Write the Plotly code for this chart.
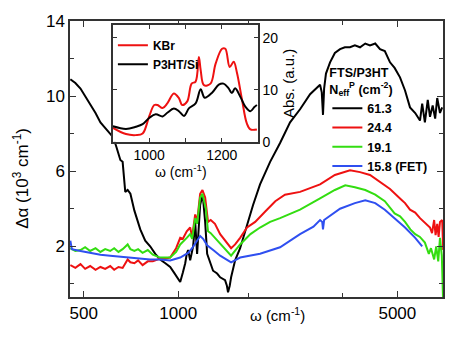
import plotly.graph_objects as go

# main panel: FTS/P3HT, delta alpha (10^3 cm^-1) vs omega (cm^-1)
w_613 = [453, 470, 488, 505, 524, 545, 565, 585, 607, 621, 635, 654, 665, 678, 690, 704, 725, 757, 785,
         814, 845, 876, 910, 943, 970, 993, 1015, 1035, 1053, 1065, 1076, 1092, 1116, 1133, 1149, 1175,
         1190, 1201, 1219, 1237, 1264, 1292, 1331, 1361, 1411, 1430, 1442, 1460, 1475, 1519, 1576, 1658,
         1733, 1824, 1964, 2113, 2274, 2447, 2634, 2834, 2870, 2896, 2920, 2960, 3050, 3160, 3282, 3400,
         3532, 3660, 3801, 3950, 4090, 4250, 4402, 4560, 4737, 4900, 5098, 5290, 5486, 5700, 5904, 6000,
         6120, 6250, 6354, 6480, 6600, 6700, 6837, 6950]
a_613 = [10.9, 10.7, 10.4, 10.0, 9.6, 9.1, 8.6, 8.3, 8.0, 7.8, 7.3, 6.6, 6.5, 4.9, 5.0, 4.8, 3.9, 2.9, 2.3,
         2.0, 1.6, 1.3, 1.1, 0.9, 0.6, 0.35, 0.1, 0.6, 1.1, 1.6, 1.8, 1.25, 2.0, 3.3, 1.6, 4.2,
         4.6, 4.5, 3.3, 1.6, 1.1, 0.7, 0.55, 0.35, 0.2, -0.1, -0.45, -0.1, 0.35, 1.25, 1.9, 3.2,
         4.2, 5.3, 6.5, 7.5, 8.6, 9.3, 10.1, 10.6, 10.2, 9.0, 10.4, 11.2, 11.8, 12.3, 12.5, 12.6,
         12.6, 12.7, 12.6, 12.8, 12.7, 12.8, 12.5, 12.4, 11.8, 11.5, 11.0, 10.3, 9.4, 9.1, 8.7, 9.6,
         8.6, 9.8, 8.9, 9.5, 8.8, 9.9, 9.1, 9.4]

w_244 = [453, 470, 488, 505, 524, 545, 565, 585, 607, 625, 645, 665, 690, 704, 725, 745, 770, 800, 830,
         860, 876, 910, 943, 985, 1015, 1035, 1065, 1092, 1108, 1133, 1149, 1175, 1195, 1219, 1245, 1270,
         1310, 1361, 1411, 1475, 1519, 1576, 1658, 1760, 1895, 2040, 2190, 2447, 2834, 3160, 3532, 3801,
         4090, 4402, 4737, 5098, 5290, 5486, 5700, 5904, 6100, 6354, 6450, 6550, 6620, 6700, 6770, 6837,
         6950, 7000]
a_244 = [1.0, 0.85, 1.05, 0.8, 0.95, 0.75, 0.9, 0.8, 0.95, 0.75, 0.9, 0.85, 1.3, 1.15, 1.1, 1.25, 1.0, 1.2, 1.2,
         1.3, 1.35, 1.35, 1.4, 1.9, 2.45, 2.4, 2.8, 3.0, 2.5, 3.7, 3.3, 4.8, 5.0, 4.6, 3.3, 3.4,
         3.2, 2.65, 2.3, 1.9, 2.1, 2.45, 3.0, 3.3, 3.85, 4.4, 4.75, 4.9, 5.3, 5.8, 6.05, 5.95,
         5.8, 5.4, 5.05, 4.55, 4.3, 3.95, 3.8, 3.5, 3.3, 3.0, 2.7, 3.4, 2.6, 3.2, 2.5, 3.3,
         3.4, 1.8]

w_191 = [453, 470, 488, 505, 524, 545, 565, 585, 607, 625, 645, 665, 690, 704, 725, 745, 770, 800, 830,
         860, 876, 910, 943, 985, 1015, 1065, 1092, 1108, 1133, 1149, 1175, 1195, 1225, 1245, 1270, 1310,
         1361, 1440, 1475, 1576, 1700, 1824, 1964, 2113, 2447, 2834, 3160, 3410, 3660, 3950, 4250, 4560,
         4900, 5100, 5290, 5500, 5700, 5900, 6120, 6300, 6400, 6550, 6650, 6750, 6837, 6930, 6990]
a_191 = [1.9, 1.75, 1.8, 1.95, 1.75, 1.9, 1.7, 1.85, 1.75, 1.9, 1.7, 1.85, 2.1, 1.85, 1.75, 1.85, 1.65, 1.8, 1.55,
         1.45, 1.4, 1.4, 1.4, 1.7, 2.1, 2.45, 2.65, 2.4, 3.5, 3.2, 4.6, 4.8, 4.0, 2.8, 2.7, 2.45,
         2.15, 1.7, 1.5, 2.1, 2.65, 3.0, 3.3, 3.5, 3.95, 4.55, 5.0, 5.25, 5.15, 5.0, 4.75, 4.4,
         3.75, 3.6, 3.3, 2.9, 2.65, 2.5, 2.2, 1.6, 1.9, 1.3, 2.0, 1.2, 2.45, 1.5, -0.7]

w_158 = [453, 458, 488, 524, 565, 607, 654, 704, 757, 814, 876, 943, 1015, 1076, 1108, 1149, 1175, 1201,
         1237, 1305, 1361, 1475, 1576, 1824, 2113, 2447, 2700, 2834, 2880, 2896, 2920, 3282, 3660, 3950,
         4250, 4560, 4900, 5290, 5700, 6000]
a_158 = [2.3, 1.85, 1.75, 1.65, 1.55, 1.5, 1.45, 1.4, 1.35, 1.3, 1.3, 1.25, 1.4, 1.65, 1.9, 2.3, 2.55, 2.4,
         2.05, 1.75, 1.5, 1.15, 1.4, 1.6, 1.95, 2.65, 3.05, 3.4, 3.3, 2.9, 3.4, 4.0, 4.3, 4.45,
         4.3, 3.95, 3.5, 3.0, 2.45, 2.0]

# inset: absorbance (a.u.)
w_ins = [900, 936, 963, 982, 1000, 1014, 1023, 1037, 1050, 1068, 1082, 1091, 1105, 1117, 1128, 1137, 1142,
         1151, 1169, 1183, 1201, 1210, 1222, 1233, 1242, 1256, 1269, 1279, 1297]
a_kbr = [2.7, 1.5, 1.3, 1.6, 4.9, 7.1, 7.1, 6.5, 7.4, 9.3, 8.4, 7.1, 7.8, 11.2, 11.6, 16.3, 13.8,
         10.9, 11.2, 15.0, 17.9, 17.9, 14.4, 15.4, 13.3, 8.1, 3.6, 2.4, 2.4]
w_si = [900, 936, 963, 982, 1000, 1018, 1037, 1050, 1068, 1082, 1096, 1110, 1128, 1142, 1153, 1174, 1192,
        1205, 1219, 1228, 1237, 1251, 1265, 1279, 1290, 1297]
a_si = [3.0, 2.5, 2.9, 3.4, 4.6, 5.3, 4.9, 5.6, 6.4, 5.9, 5.0, 6.5, 7.4, 10.1, 8.5, 9.5, 11.0,
        11.2, 10.3, 9.4, 10.3, 8.7, 6.8, 5.9, 6.7, 7.1]

_FONT = "Arial, Liberation Sans, sans-serif"
_RED = "#ee1111"
_GREEN = "#33dd11"
_BLUE = "#2f4ff0"
_AX = "#333333"

fig = go.Figure()
for w, a, name, col in [(w_613, a_613, "61.3", "black"), (w_244, a_244, "24.4", _RED),
                        (w_191, a_191, "19.1", _GREEN), (w_158, a_158, "15.8 (FET)", _BLUE)]:
    fig.add_trace(go.Scatter(x=w, y=a, mode="lines", name=name, line=dict(color=col, width=2),
                             xaxis="x", yaxis="y", legend="legend"))

fig.add_trace(go.Scatter(x=w_ins, y=a_kbr, mode="lines", name="KBr", line=dict(color=_RED, width=2, shape="spline"),
                         xaxis="x2", yaxis="y2", legend="legend2"))
fig.add_trace(go.Scatter(x=w_si, y=a_si, mode="lines", name="P3HT/Si", line=dict(color="black", width=2, shape="spline"),
                         xaxis="x2", yaxis="y2", legend="legend2"))

_ax = dict(showline=True, linecolor=_AX, linewidth=1.5, mirror="ticks", ticks="inside",
           tickcolor=_AX, showgrid=False, zeroline=False)

fig.update_layout(
    width=467, height=350,
    margin=dict(l=70, r=24, t=16, b=53),
    paper_bgcolor="white", plot_bgcolor="white",
    font=dict(family=_FONT, color="black", size=17),
    xaxis=dict(type="log", range=[2.655, 3.8445], tickvals=[500, 1000, 5000], ticklen=6,
               tickfont=dict(size=17),
               minor=dict(tickvals=[1670, 3330], ticks="inside", ticklen=4, tickcolor=_AX), **_ax),
    yaxis=dict(range=[-0.7, 14], tickvals=[2, 6, 10, 14], ticklen=6, tickfont=dict(size=17),
               minor=dict(tickvals=[0, 4, 8, 12], ticks="inside", ticklen=4, tickcolor=_AX), **_ax),
    xaxis2=dict(domain=[0.115, 0.504], anchor="y2", range=[900, 1300], tickvals=[1000, 1100, 1200],
                ticktext=["1000", "", "1200"], ticklen=4, tickfont=dict(size=14), **_ax),
    yaxis2=dict(domain=[0.562, 0.986], anchor="x2", side="right", range=[0, 22.5], tickvals=[0, 10, 20],
                ticklen=4, tickfont=dict(size=14),
                title=dict(text="Abs. (a.u.)", font=dict(size=15), standoff=6), **_ax),
    showlegend=True,
    legend=dict(x=0.69, y=0.855, xanchor="left", yanchor="top", bgcolor="rgba(0,0,0,0)",
                font=dict(size=12.5, family=_FONT, weight="bold"), itemwidth=30, tracegroupgap=0,
                title=dict(text="FTS/P3HT<br>N<sub>eff</sub><sup>P</sup> (cm<sup>-2</sup>)",
                           font=dict(size=12.5, family=_FONT, weight="bold"))),
    legend2=dict(x=0.115, y=0.965, xanchor="left", yanchor="top", bgcolor="rgba(0,0,0,0)",
                 font=dict(size=12, family=_FONT, weight="bold"), itemwidth=30),
    annotations=[
        dict(text="Δα (10<sup>3</sup> cm<sup>-1</sup>)", xref="paper", yref="paper", x=-0.13, y=0.43,
             xanchor="center", yanchor="middle", textangle=-90, showarrow=False, font=dict(size=17)),
        dict(text="ω (cm<sup>-1</sup>)", xref="paper", yref="paper", x=0.556, y=-0.064,
             xanchor="center", yanchor="middle", showarrow=False, font=dict(size=15)),
        dict(text="ω (cm<sup>-1</sup>)", xref="paper", yref="paper", x=0.298, y=0.455,
             xanchor="center", yanchor="middle", showarrow=False, font=dict(size=14)),
    ],
)

fig.write_html("out.html", config={"displayModeBar": False},
               post_script="document.body.style.margin='0';")
